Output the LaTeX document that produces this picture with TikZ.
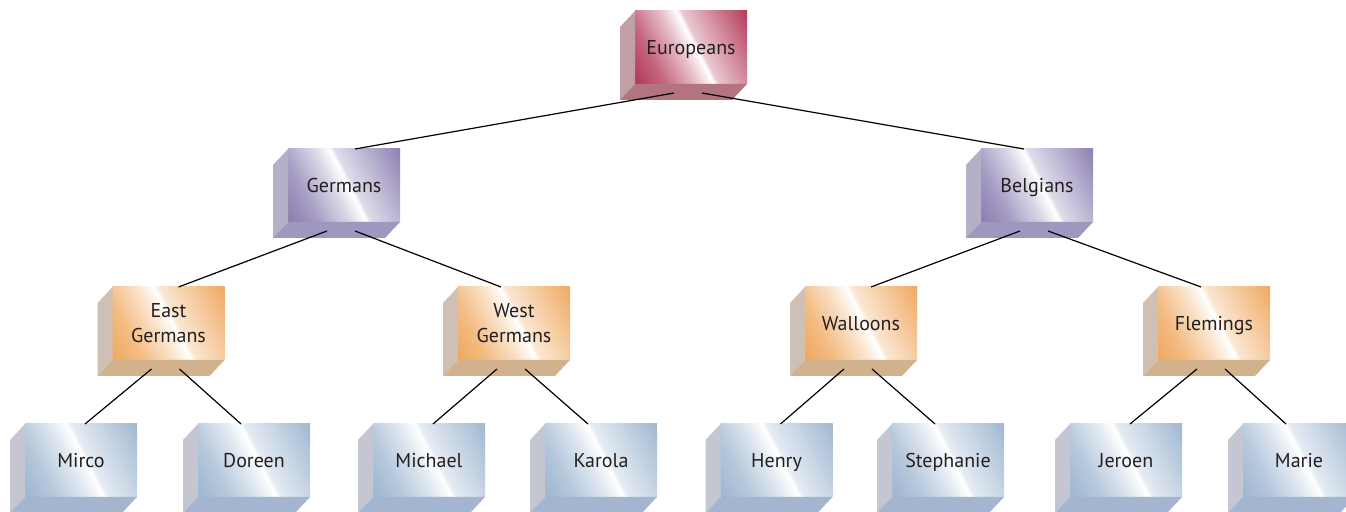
\documentclass[tikz,border=0pt]{standalone}
\usepackage{fontspec}
\setmainfont{PT Sans}

\definecolor{boxtext}{RGB}{35,31,32}
\definecolor{eudark}{RGB}{172,38,72}
\definecolor{euside}{RGB}{192,160,166}
\definecolor{eubottom}{RGB}{178,116,126}
\definecolor{pudark}{RGB}{128,115,170}
\definecolor{puside}{RGB}{180,176,200}
\definecolor{pubottom}{RGB}{160,151,190}
\definecolor{ordark}{RGB}{238,160,80}
\definecolor{orside}{RGB}{206,192,180}
\definecolor{orbottom}{RGB}{210,178,140}
\definecolor{bldark}{RGB}{150,176,205}
\definecolor{blside}{RGB}{196,199,209}
\definecolor{blbottom}{RGB}{163,181,207}

% glossy front face, one shading for each colour
\newcommand*{\glossshading}[1]{%
	\pgfdeclarehorizontalshading{#1gloss}{100bp}{color(0bp)=(#1dark); color(12bp)=(#1dark);
		color(30bp)=(#1dark!70!white); color(44bp)=(#1dark!30!white); color(52bp)=(white);
		color(54bp)=(#1dark!25!white); color(70bp)=(#1dark!60!white);
		color(88bp)=(#1dark); color(100bp)=(#1dark)}}
\glossshading{eu}
\glossshading{pu}
\glossshading{or}
\glossshading{bl}

\begin{document}
\begin{tikzpicture}
[
	x=0.5pt,y=-0.5pt,
	box/.style={inner sep=0pt,outer sep=0pt,minimum width=56pt,minimum height=36.5pt,
		align=center,text=boxtext,font=\fontsize{10}{12.5}\selectfont},
	one/.style={text height=7pt,text depth=0pt},
	eubox/.style={box,shading=eugloss,shading angle=27},
	pubox/.style={box,shading=pugloss,shading angle=27},
	orbox/.style={box,shading=orgloss,shading angle=27},
	blbox/.style={box,shading=blgloss,shading angle=27},
	link/.style={line width=0.6pt,black}
]

	\useasboundingbox (0,0) rectangle (1346,512);

	% front faces
	\node[eubox,one] (eu) at (691,47.5) {Europeans};

	\node[pubox,one] (ge) at (344,185.5) {Germans};
	\node[pubox,one] (be) at (1037,185.5) {Belgians};

	\node[orbox] (eg) at (168.5,323.5) {East\\Germans};
	\node[orbox] (wg) at (514,323.5) {West\\Germans};
	\node[orbox,one] (wa) at (861,323.5) {Walloons};
	\node[orbox,one] (fl) at (1214,323.5) {Flemings};

	\node[blbox,one] (mi) at (81,460.5) {Mirco};
	\node[blbox,one] (do) at (254,460.5) {Doreen};
	\node[blbox,one] (mc) at (429,460.5) {Michael};
	\node[blbox,one] (ka) at (601,460.5) {Karola};
	\node[blbox,one] (he) at (776.5,460.5) {Henry};
	\node[blbox,one] (st) at (948,460.5) {Stephanie};
	\node[blbox,one] (je) at (1126,460.5) {Jeroen};
	\node[blbox,one] (ma) at (1299,460.5) {Marie};

	% side and bottom faces
	\foreach \n/\col in {eu/eu,ge/pu,be/pu,eg/or,wg/or,wa/or,fl/or,
		mi/bl,do/bl,mc/bl,ka/bl,he/bl,st/bl,je/bl,ma/bl} {
		\fill[\col side] (\n.north west) -- ++(-15,16) -- ([shift={(-15,16)}]\n.south west) -- (\n.south west) -- cycle;
		\fill[\col bottom] (\n.south west) -- ++(-15,16) -- ([shift={(-15,16)}]\n.south east) -- (\n.south east) -- cycle;
	}

	% links
	\foreach \p/\l/\r/\e in {eu/ge/be/11,ge/eg/wg/10,be/wa/fl/10,
		eg/mi/do/4,wg/mc/ka/4,wa/he/st/4,fl/je/ma/4} {
		\draw[link] ([shift={(-17,9)}]\p.south) -- ([shift={(\e,0)}]\l.north);
		\draw[link] ([shift={(11,9)}]\p.south) -- ([shift={(-13,0)}]\r.north);
	}

\end{tikzpicture}
\end{document}
